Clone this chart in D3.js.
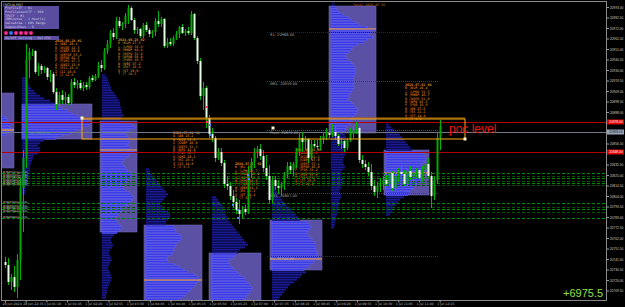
<!DOCTYPE html>
<html><head><meta charset="utf-8">
<script src="https://cdn.jsdelivr.net/npm/d3@7"></script>
<style>html,body{margin:0;padding:0;background:#000;overflow:hidden}</style>
</head><body>
<svg id="c" width="625" height="307"></svg>
<script>
// ---------------- DATA ----------------
const opens = [20738,20735,20718,20723,20713,20740,20812,20842,20940,20948,
20949,20928,20934,20930,20932,20923,20926,20908,20896,20905,
20900,20903,20897,20918,20915,20917,20912,20915,20913,20922,
20920,20924,20935,20932,20949,20956,20967,20963,20979,20974,
20976,20984,20992,20980,20970,20971,20964,20975,20970,20966,
20968,20979,20976,20981,20954,20958,20956,20962,20966,20973,
20967,20969,20967,20986,20962,20939,20904,20912,20882,20866,
20862,20842,20848,20837,20816,20814,20804,20798,20790,20786,
20791,20788,20830,20838,20848,20851,20844,20832,20824,20800,
20820,20814,20812,20816,20825,20834,20830,20836,20848,20862,
20858,20861,20842,20856,20854,20853,20861,20864,20867,20865,
20868,20864,20856,20859,20852,20860,20866,20870,20872,20840,
20836,20833,20828,20814,20808,20814,20817,20820,20816,20827,
20812,20824,20828,20826,20816,20829,20823,20826,20830,20822,
20830,20836,20824,20804,20820,20862];
const highs = [20743,20742,20726,20734,20746,20822,20850,20956,20952,20951,
20950,20937,20936,20934,20933,20930,20928,20912,20908,20910,
20908,20906,20921,20922,20920,20920,20918,20918,20924,20925,
20926,20938,20940,20952,20960,20970,20972,20983,20983,20978,
20987,20995,20994,20982,20973,20972,20977,20978,20972,20970,
20982,20989,20983,20982,20962,20962,20964,20969,20974,20976,
20971,20973,20989,20987,20964,20942,20918,20914,20885,20872,
20864,20852,20852,20840,20824,20818,20810,20802,20800,20794,
20795,20834,20842,20852,20854,20856,20850,20845,20835,20824,
20824,20820,20818,20828,20838,20838,20838,20852,20868,20868,
20864,20862,20860,20860,20860,20864,20868,20872,20870,20876,
20874,20866,20862,20860,20862,20872,20874,20878,20874,20845,
20840,20838,20836,20820,20818,20822,20824,20825,20830,20829,
20828,20832,20834,20830,20832,20834,20830,20832,20832,20834,
20840,20842,20828,20824,20868,20880];
const lows = [20732,20715,20710,20708,20702,20720,20768,20832,20922,20944,
20926,20924,20926,20927,20920,20918,20906,20890,20894,20896,
20896,20895,20895,20912,20911,20910,20909,20910,20911,20918,
20919,20922,20928,20930,20946,20952,20960,20961,20972,20970,
20972,20976,20979,20966,20966,20962,20962,20968,20963,20962,
20964,20973,20973,20952,20952,20954,20954,20960,20962,20966,
20964,20965,20965,20960,20936,20900,20890,20872,20862,20858,
20838,20840,20834,20812,20810,20800,20792,20786,20776,20782,
20785,20786,20822,20832,20842,20840,20828,20820,20796,20797,
20810,20806,20804,20810,20822,20826,20824,20832,20844,20848,
20850,20837,20840,20852,20850,20850,20856,20860,20862,20863,
20860,20854,20851,20848,20850,20858,20862,20866,20837,20832,
20830,20824,20810,20804,20802,20808,20810,20814,20814,20809,
20810,20818,20822,20814,20814,20820,20818,20822,20820,20818,
20824,20822,20792,20800,20816,20850];
const closes = [20735,20718,20723,20713,20740,20812,20842,20940,20948,20949,
20928,20934,20930,20932,20923,20926,20908,20896,20905,20900,
20903,20897,20918,20915,20917,20912,20915,20913,20922,20920,
20924,20935,20932,20949,20956,20967,20963,20979,20974,20976,
20984,20992,20980,20970,20971,20964,20975,20970,20966,20968,
20979,20976,20981,20954,20958,20956,20962,20966,20973,20967,
20969,20967,20986,20962,20939,20904,20912,20882,20866,20862,
20842,20848,20837,20816,20814,20804,20798,20790,20786,20791,
20788,20830,20838,20848,20851,20844,20832,20824,20800,20820,
20814,20812,20816,20825,20834,20830,20836,20848,20862,20858,
20861,20842,20856,20854,20853,20861,20864,20867,20865,20868,
20864,20856,20859,20852,20860,20866,20870,20872,20840,20836,
20833,20828,20814,20808,20814,20817,20820,20816,20827,20812,
20824,20828,20826,20816,20829,20823,20826,20830,20822,20830,
20836,20824,20804,20820,20862,20874];

const priceTicks = [20993.0,20982.5,20972.0,20961.5,20951.0,20940.5,20930.0,20919.5,20909.0,20898.5,20888.0,
20856.5,20835.5,20825.0,20814.5,20804.0,20793.5,20783.0,20772.5,20762.0,20751.5,20741.0,20730.5,20720.0,20709.5];
const timeLabels = ["28 Jun 2024","28 Jun 22:35","1 Jul 01:10","1 Jul 01:45","1 Jul 02:20","1 Jul 02:55","1 Jul 03:30","1 Jul 04:05","1 Jul 04:40","1 Jul 05:15","1 Jul 05:50","1 Jul 06:25","1 Jul 07:00","1 Jul 07:35","1 Jul 08:10","1 Jul 08:45","1 Jul 09:20","1 Jul 09:55","1 Jul 10:30","1 Jul 11:05","1 Jul 11:40","1 Jul 12:15"];

// volume profiles (row size 2.5 points, rows listed from top price downward)
const rowStep = 2.5;
const volsA = [4,6,8,10,9,12,8,5];
const volsB = [4,5,6,7,9,12,14,18,22,28,32, 36,40,45,50,56,62,66,68,66,60,54,48,40,34,
  22,18,16,18,18,16,12,11,10,9,8,8,8,7,7,6,6,5,5,4,4,3];
const volsC = [3,5,6,7,8,9,10,12,14,15,17,18,18,19,20,20,22,20,18,
  22,30,33,28,26,24,26,28,27,25,28,33,31,27,24,22,20,21,23,25,28,30,28,26,24,22,22,24,27,30,32,30,27,25,22,20,18,16,14,14,16,18,20,18,15,
  12,10,9,10,11,10,8,7,8,9,10,8,7,6,7,8,9,10,9,8,7,6,5,5,4,4];
const volsD = [3,4,6,8,10,12,14,16,18,20,22,20,18,16,14,16,18,22,24,24,22,20,20,
  28,29,30,33,35,35,33,30,29,28,28,26,22,21,22,28,33,38,42,48,52,53,52,50,48,45,43,40,38,34];
const volsE = [4,6,8,10,12,13,14,14,15,16,18,20,22,24,26,28,30,32,34,36,33,28,26,
  24,22,18,16,18,20,22,25,28,32,34,36,38,40,40,38,36,34,32];
const volsF = [3,4,5,6,8,10,12,14,17,20,22,24,26,28,
  36,38,39,37,35,36,38,40,42,43,43,44,45,45,46,46,42,38,36,32,
  34,30,28,25,22,18,16,14,12,10,8,6];
const volsG = [5,6,8,12,17,20,24,28,36,45,40,38,42,36,33,26,22,20,18,15,15,17,20,22,24,24,24,24,23,23,23,22,23,22,20,18,18,17,20,22,25,27,26,24,22,20,20,18,15,14,12,
  14,15,15,14,13,14,15,15,14,13,12,12,13,14,12,10,10,11,12,12,11,10,9,9,10,10,9,8,8,7,7,6,6,5,5,4,4,3];
const volsH = [3,5,8,11,14,16,18,20,22,24,26,
  36,38,40,40,38,36,37,38,38,37,36,35,33,30,28,26,24,22,
  18,14,12,10,8,7,6,4];
const profileVolumes = [volsA,volsB,volsC,volsD,volsE,volsF,volsG,volsH];
const profileBarStart = [-1.33,5.67,32.33,47,69,89,108.67,127];
const profileBoxStart = [-1.67,5.67,31.67,46.33,68,88.33,108,126.33];
const profileBoxEnd   = [3,29,44,65.67,85.33,105.67,123.67,141.33];
const profileTop      = [20884,20923,20926,20832,20804,20814,20994,20876.5];
const profileVAHigh   = [20907,20896,20879,20775,20747,20780,20994,20850];
const profileVALow    = [20832,20861,20768,20690,20690,20730,20867,20805];
const profilePOC      = [20870,null,20850,20720,null,20741,20971,20827];

// level lines
const levelPrices = [20878,20868,20848];
const levelKinds  = ["red","grey","red"];
// pivot dotted lines
const pivotNames  = ["R1","MR1","Pivot","MS1","S1"];
const pivotPrices = [20968,20919,20870,20807,20744];
const pivotFrom = 87.33, pivotTo = 144.33;
// trade order lines
const tradePrices = [20827,20824,20822,20819,20817,20815,20797,20793,20791,20788,20782];
const tradeLabels = ["#40207311 buy 0.01","#40207342 buy 0.01","#40207365 buy 0.01","#40207390 buy 0.01","#40207412 buy 0.01","#40207433 buy 0.01",
  "#40207518 buy 0.01","#40207540 buy 0.01","#40207561 buy 0.01","#40207588 buy 0.01","#40207603 buy 0.01"];
// balance rectangle
const rectIdx = [25.67,153.33];
const rectPrice = [20881,20861];
// small trade markers
const markerIdx   = [68.33,68.33,81,81.33,76,77.67,77.67,67.33,67.33];
const markerPrice = [20875,20865,20825,20821,20795,20790,20782,20893,20878];
const markerType  = ["b","b","b","b","b","b","b","r","r"];
// TPO text blocks
const tpoStart = [16.67,37.67,56,76.67,96.67,133.33];
const tpoTop   = [20961,20962,20869,20838,20852,20917];
const tpoRows = [
 ["2024.06.28 H1","A |ABC   20.1","B |BCDE  42.5","C |CDEF  38.0","D |DEFGH 55.2","E |EFGH  61.7","F |FGHI  47.3","G |GHIJ  33.9","H |HIJ   29.4","I |IJ    18.6","J |J     12.0"],
 ["2024.06.28 H2","K |KLM   17.3","L |LMNO  36.8","M |MNOP  44.1","N |NOPQ  52.6","O |OPQR  58.9","P |PQRS  49.5","Q |QRS   37.2","R |RST   26.4","S |ST    19.9","T |T     10.5"],
 ["2024.07.01 H1","A |AB    15.2","B |BCD   31.6","C |CDEF  46.0","D |DEFG  52.3","E |EFG   41.8","F |FGH   35.7","G |GHI   28.1","H |HI    20.4","I |IJ    14.9","J |J      9.3"],
 ["2024.07.01 H2","K |KL    13.4","L |LMN   29.7","M |MNOP  43.2","N |NOPQ  56.5","O |OPQ   48.6","P |PQR   39.0","Q |QRS   31.3","R |RS    22.8","S |ST    16.1","T |T      8.7"],
 ["2024.07.01 H3","A |ABC   18.5","B |BCDE  34.2","C |CDEF  47.9","D |DEFG  53.1","E |EFGH  45.6","F |FGH   38.4","G |GHI   30.2","H |HIJ   23.7","I |IJ    15.8","J |J     10.2"],
 ["2024.07.01 H4","K |KLM   16.4","L |LMNO  33.5","M |MNOP  45.7","N |NOPQ  51.0","O |OPQ   43.3","P |PQR   36.9","Q |QR    27.5","R |RS    21.2","S |ST    14.4","T |T      9.6"]
];
const infoLines = ["ProfileTF      : H1","ProfileCountTF : 999","TPOTF          : M1","IBMinutes      : 1 Hour(s)","ValueArea      : 68% Range","SegmentRows    : 8"];
const iconColors = ["p","b","p","p","p","p"];
const profitText = "+6975.5";

// ---------------- DRAW ----------------
const W=625,H=307;
const svg=d3.select("#c").attr("font-family","DejaVu Sans");
const P={l:2,r:606,t:2,b:300};
const x=d3.scaleLinear().domain([0,145]).range([5,440]);
const y=d3.scaleLinear().domain([20998,20700]).range([2,300]);
const wv=d3.scaleLinear().domain([0,100]).range([0,100]);

svg.append("rect").attr("width",W).attr("height",H).attr("fill","#000");
svg.append("defs").append("clipPath").attr("id","pc").append("rect")
  .attr("x",P.l).attr("y",P.t).attr("width",P.r-P.l).attr("height",P.b-P.t);
const g=svg.append("g").attr("clip-path","url(#pc)");

// profiles
profileVolumes.forEach((vols,i)=>{
  const pg=g.append("g");
  const y0=y(profileVAHigh[i]), y1=y(profileVALow[i]);
  pg.append("rect").attr("x",x(profileBoxStart[i])).attr("y",y0)
    .attr("width",x(profileBoxEnd[i])-x(profileBoxStart[i])).attr("height",y1-y0)
    .attr("fill","#5a50a4").attr("stroke","#6c63b4").attr("stroke-width",0.6);
  vols.forEach((v,k)=>{
    const p=profileTop[i]-k*rowStep;
    const inVA = p<=profileVAHigh[i] && p>=profileVALow[i];
    pg.append("rect").attr("x",x(profileBarStart[i])).attr("y",y(p)+0.25)
      .attr("width",wv(v)).attr("height",y(p-rowStep)-y(p)-0.5)
      .attr("fill",inVA?"#3c3ce6":"#1a1a90")
      .attr("stroke",inVA?"#6a6af8":"#0c0c50").attr("stroke-width",0.4);
  });
  if(profilePOC[i]!==null){
    pg.append("line").attr("x1",x(profileBoxStart[i])).attr("x2",x(profileBoxEnd[i]))
      .attr("y1",y(profilePOC[i])).attr("y2",y(profilePOC[i]))
      .attr("stroke","#ffa828").attr("stroke-width",1.2);
  }
});

// TPO blocks
tpoRows.forEach((rows,i)=>{
  const tg=g.append("g").attr("font-family","DejaVu Sans Mono").attr("font-size",3.4).attr("font-weight","bold");
  rows.forEach((r,k)=>{
    tg.append("text").attr("x",x(tpoStart[i])).attr("y",y(tpoTop[i]-k*3.4)+3)
      .attr("fill",k===0?"#d88a2c":(k%2?"#c06e1c":"#a8601a")).text(r);
  });
});
g.append("text").attr("x",x(116)).attr("y",y(20996)+1.5).attr("font-family","DejaVu Sans Mono")
  .attr("font-size",3.4).attr("fill","#b86a1c").text("Total 2024.07.01");
g.append("text").attr("x",x(109)).attr("y",y(20994)).attr("font-size",5).attr("fill","#2a2ad0").text("0");

// trade dashed lines
tradePrices.forEach((p,i)=>{
  g.append("line").attr("x1",P.l).attr("x2",P.r).attr("y1",Math.round(y(p))+0.5).attr("y2",Math.round(y(p))+0.5)
    .attr("stroke",i%2?"#005400":"#008a00").attr("stroke-width",1).attr("stroke-dasharray","3,2");
});
tradePrices.forEach((p,i)=>{
  g.append("text").attr("x",3).attr("y",y(p)+0.3).attr("font-size",2.3).attr("fill","#e8e8e8").text(tradeLabels[i]);
});

// level lines
levelPrices.forEach((p,i)=>{
  g.append("line").attr("x1",P.l).attr("x2",P.r).attr("y1",Math.round(y(p))+0.5).attr("y2",Math.round(y(p))+0.5)
    .attr("stroke",levelKinds[i]==="red"?"#b00000":"#6e7a8a").attr("stroke-width",1);
});

// pivot dotted lines
const pivotColor={R1:"#1414c8",MR1:"#0a6a0a",Pivot:"#c000c0",MS1:"#0a6a0a",S1:"#a00000"};
pivotNames.forEach((n,i)=>{
  const py=Math.round(y(pivotPrices[i]))+0.5;
  g.append("line").attr("x1",x(pivotFrom)).attr("x2",x(pivotTo)).attr("y1",py).attr("y2",py)
    .attr("stroke",pivotColor[n]).attr("stroke-width",1).attr("stroke-dasharray","1,1");
  g.append("text").attr("x",x(pivotFrom)+3).attr("y",py+3.8).attr("font-size",3.6).attr("fill","#a8a8a8")
    .text(n+": "+pivotPrices[i].toFixed(2));
});
g.append("text").attr("x",x(8.3)).attr("y",y(20866.5)).attr("font-size",3).attr("fill","#3aa0a0").text("poc 20878.00");

// candles
const cg=g.append("g");
opens.forEach((o,i)=>{
  const xi=Math.round(x(i));
  cg.append("line").attr("x1",xi+0.5).attr("x2",xi+0.5).attr("y1",y(highs[i])).attr("y2",y(lows[i]))
    .attr("stroke","#00b400").attr("stroke-width",1);
  const c=closes[i], bull=c>=o;
  const t=y(Math.max(o,c)), b=y(Math.min(o,c));
  cg.append("rect").attr("x",xi-0.5).attr("y",t).attr("width",2).attr("height",Math.max(1,b-t))
    .attr("fill",bull?"#00a800":"#e2ffe2");
});

// markers
markerIdx.forEach((mi,i)=>{
  g.append("rect").attr("x",x(mi)-1).attr("y",y(markerPrice[i])-1).attr("width",2).attr("height",2)
    .attr("fill",markerType[i]==="b"?"#4a8cff":"#ff3050");
});

// balance rectangle
const rx0=x(rectIdx[0]), rx1=x(rectIdx[1]), ry0=y(rectPrice[0]), ry1=y(rectPrice[1]);
g.append("line").attr("x1",rx0).attr("x2",rx1).attr("y1",ry0-1).attr("y2",ry0-1).attr("stroke","#b07000").attr("stroke-width",1);
g.append("rect").attr("x",rx0).attr("y",ry0).attr("width",rx1-rx0).attr("height",ry1-ry0)
  .attr("fill","none").attr("stroke","#ffab10").attr("stroke-width",1);
[[rectIdx[0],rectPrice[0]+1],[rectIdx[1],rectPrice[1]],[89.33,20872]].forEach(d=>{
  g.append("rect").attr("x",x(d[0])-1.5).attr("y",y(d[1])-1.5).attr("width",3).attr("height",3).attr("fill","#fff6c8");
});

// poc level text
g.append("text").attr("x",x(148)).attr("y",y(20867)).attr("font-family","Liberation Sans").attr("font-size",12)
  .attr("fill","#f01414").text("poc level");

// profit
svg.append("text").attr("x",563).attr("y",297).attr("font-family","Liberation Sans").attr("font-size",11)
  .attr("fill","#8ee04c").text(profitText);

// info panel
svg.append("text").attr("x",3).attr("y",6).attr("font-size",3.6).attr("fill","#c8c8c8").text("[NQU4,M5]");
svg.append("rect").attr("x",4).attr("y",6).attr("width",55).attr("height",23).attr("fill","#5a4c9e");
infoLines.forEach((t,i)=>{
  svg.append("text").attr("x",5).attr("y",9+i*3.75).attr("font-family","DejaVu Sans Mono").attr("font-size",3.2)
    .attr("fill","#d4cde8").text(t);
});
iconColors.forEach((c,i)=>{
  svg.append("circle").attr("cx",6+i*5).attr("cy",33).attr("r",2)
    .attr("fill",c==="p"?"#ff3399":"#3a78ff").attr("stroke",c==="p"?"#8a0a4a":"#103a90").attr("stroke-width",0.6);
});
svg.append("rect").attr("x",4).attr("y",36).attr("width",55).attr("height",4).attr("fill","#5a4c9e");
svg.append("text").attr("x",5).attr("y",39.2).attr("font-family","DejaVu Sans Mono").attr("font-size",3.2)
  .attr("fill","#d4cde8").text("On/Off Setting : Del:ESC");

// frame
svg.append("rect").attr("x",1.5).attr("y",1.5).attr("width",605).attr("height",299).attr("fill","none").attr("stroke","#8a8a8a");

// right axis
const ra=svg.append("g").attr("transform","translate(606.5,0)")
  .call(d3.axisRight(y).tickValues(priceTicks).tickFormat(d3.format(".2f")).tickSize(2.5).tickSizeOuter(0));
ra.select(".domain").remove();
ra.selectAll("line").attr("stroke","#9a9a9a");
ra.selectAll("text").attr("font-size",3.3).attr("font-family","Liberation Sans").attr("fill","#c8c8c8").attr("x",3.2);

// level labels on axis
levelPrices.forEach((p,i)=>{
  const ly=y(p);
  svg.append("rect").attr("x",607).attr("y",ly-2.5).attr("width",17).attr("height",5)
    .attr("fill",levelKinds[i]==="red"?"#e00000":"#9aa6ba");
  svg.append("text").attr("x",609).attr("y",ly+1.2).attr("font-size",3.3).attr("font-family","Liberation Sans")
    .attr("fill",levelKinds[i]==="red"?"#ffffff":"#1a1a2a").text(p.toFixed(2));
});

// bottom axis
const tx=d3.scalePoint().domain(timeLabels).range([5,439.7]);
const ba=svg.append("g").attr("transform","translate(0,300.5)")
  .call(d3.axisBottom(tx).tickSize(2).tickSizeOuter(0));
ba.select(".domain").remove();
ba.selectAll("line").attr("stroke","#9a9a9a");
ba.selectAll("text").attr("font-size",3.2).attr("font-family","DejaVu Sans").attr("fill","#bdbdbd")
  .attr("text-anchor","start").attr("dx",-3).attr("y",2).attr("dy","0.75em");
</script>
</body></html>
